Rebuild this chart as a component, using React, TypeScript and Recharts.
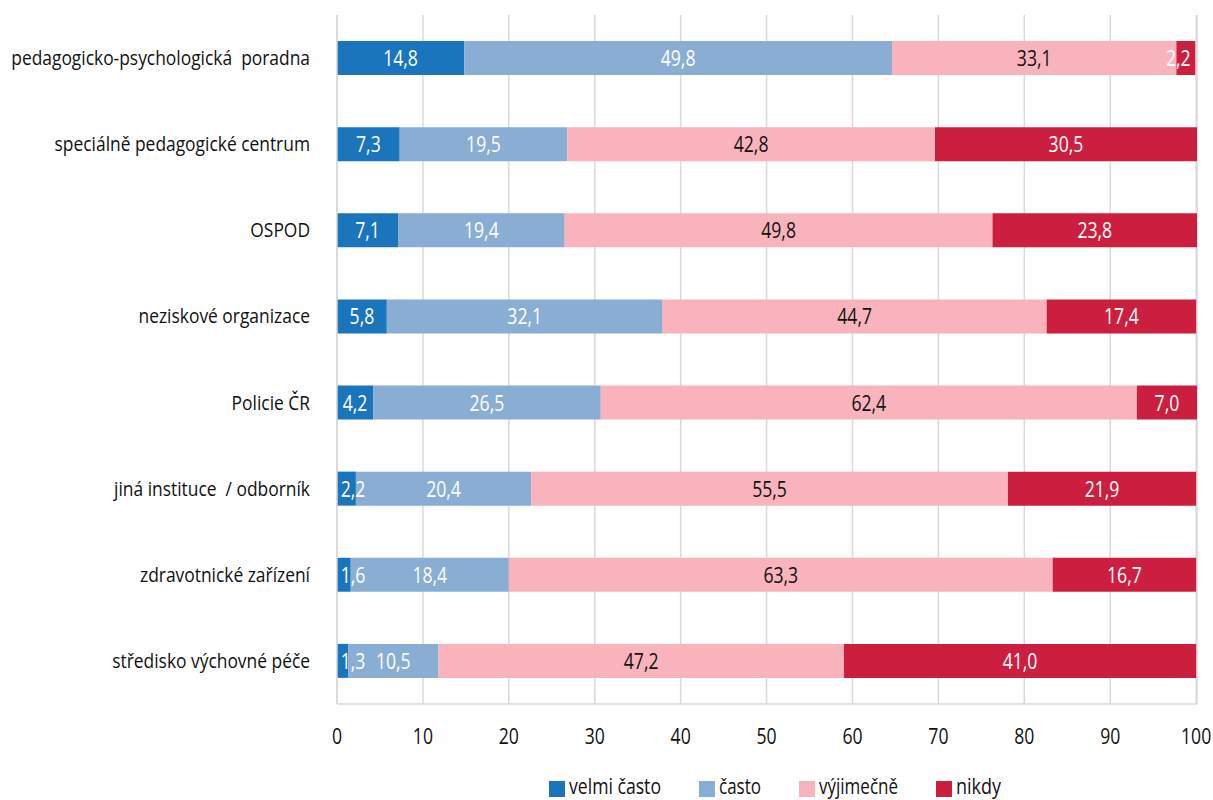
import React from "react"
import {
  BarChart,
  Bar,
  XAxis,
  YAxis,
  CartesianGrid,
  Legend,
  LabelList,
} from "recharts"

const categories = [
  "pedagogicko-psychologická  poradna",
  "speciálně pedagogické centrum",
  "OSPOD",
  "neziskové organizace",
  "Policie ČR",
  "jiná instituce  / odborník",
  "zdravotnické zařízení",
  "středisko výchovné péče",
]

const velmiCasto = [14.8, 7.3, 7.1, 5.8, 4.2, 2.2, 1.6, 1.3]
const casto = [49.8, 19.5, 19.4, 32.1, 26.5, 20.4, 18.4, 10.5]
const vyjimecne = [33.1, 42.8, 49.8, 44.7, 62.4, 55.5, 63.3, 47.2]
const nikdy = [2.2, 30.5, 23.8, 17.4, 7.0, 21.9, 16.7, 41.0]

const xTicks = [0, 10, 20, 30, 40, 50, 60, 70, 80, 90, 100]

// legendW = drawn width of each legend label (the source font is condensed)
const series = [
  { key: "velmi", name: "velmi často", color: "#1b75bc", text: "#ffffff", legendW: 92 },
  { key: "casto", name: "často", color: "#8aadd4", text: "#ffffff", legendW: 42 },
  { key: "vyjimecne", name: "výjimečně", color: "#f8b3bd", text: "#111111", legendW: 79 },
  { key: "nikdy", name: "nikdy", color: "#cc1f40", text: "#ffffff", legendW: 45 },
]

const data = categories.map((name, i) => ({
  name,
  velmi: velmiCasto[i],
  casto: casto[i],
  vyjimecne: vyjimecne[i],
  nikdy: nikdy[i],
}))

const FONT = "'Open Sans', sans-serif"
const LABEL_SCALE = 0.87
const DIGIT_SCALE = 0.8
const HALF_LABEL = 16 // keeps edge labels inside the plot, like Excel does

const fmt = (v: any) => Number(v).toFixed(1).replace(".", ",")

function YTick({ x, y, payload }: any) {
  return (
    <g transform={`translate(${x},${y})`}>
      <text
        transform={`scale(${LABEL_SCALE},1)`}
        textAnchor="end"
        dy={7}
        fontSize={20}
        fontFamily={FONT}
        fill="#111"
        style={{ whiteSpace: "pre" }}
      >
        {payload.value}
      </text>
    </g>
  )
}

function XTick({ x, y, payload }: any) {
  return (
    <g transform={`translate(${x},${y})`}>
      <text
        transform={`scale(${DIGIT_SCALE},1)`}
        textAnchor="middle"
        dy={26}
        fontSize={22}
        fontFamily={FONT}
        fill="#111"
      >
        {payload.value}
      </text>
    </g>
  )
}

function Num({ cx, cy, value, color }: any) {
  return (
    <g transform={`translate(${cx},${cy})`}>
      <text
        transform={`scale(${DIGIT_SCALE},1)`}
        textAnchor="middle"
        dy={8}
        fontSize={22}
        fontFamily={FONT}
        fill={color}
      >
        {fmt(value)}
      </text>
    </g>
  )
}

function makeBarLabel(color: string, clampRight = false) {
  return function BarLabel(props: any) {
    const vb = props.viewBox || props
    let cx = vb.x + vb.width / 2
    if (clampRight) cx = Math.min(cx, vb.x + vb.width - HALF_LABEL - 1)
    return <Num cx={cx} cy={vb.y + vb.height / 2} value={props.value} color={color} />
  }
}

// "velmi často" labels are drawn from the next segment's layer so that
// narrow values spilling over the segment edge stay visible on top
function VelmiLabel(props: any) {
  const vb = props.viewBox || props
  const i = props.index
  const pxPerUnit = vb.width / casto[i]
  const w = velmiCasto[i] * pxPerUnit
  const left = vb.x - w
  const cx = Math.max(left + w / 2, left + HALF_LABEL)
  return <Num cx={cx} cy={vb.y + vb.height / 2} value={velmiCasto[i]} color="#ffffff" />
}

function LegendContent() {
  return (
    <div
      style={{
        display: "flex",
        justifyContent: "center",
        gap: 38,
        paddingLeft: 353,
        paddingRight: 16,
      }}
    >
      {series.map((s) => (
        <div key={s.key} style={{ display: "flex", alignItems: "center", gap: 4 }}>
          <span style={{ width: 16, height: 16, background: s.color, display: "inline-block" }} />
          <svg
            width={s.legendW + 20}
            height={26}
            style={{ display: "block", overflow: "visible", marginRight: -20 }}
          >
            <text
              x={0}
              y={18}
              fontSize={21}
              fontFamily={FONT}
              fill="#111"
              textLength={s.legendW}
              lengthAdjust="spacingAndGlyphs"
            >
              {s.name}
            </text>
          </svg>
        </div>
      ))}
    </div>
  )
}

export default function App() {
  return (
    <div style={{ position: "absolute", left: 0, top: 0, background: "#fff", fontFamily: FONT }}>
      <BarChart
        width={1213}
        height={800}
        data={data}
        layout="vertical"
        margin={{ top: 15, right: 16, left: 0, bottom: 0 }}
      >
        <CartesianGrid horizontal={false} stroke="#d9d9d9" strokeWidth={1.5} />
        <XAxis
          type="number"
          domain={[0, 100]}
          ticks={xTicks}
          interval={0}
          tickLine={false}
          axisLine={{ stroke: "#d9d9d9", strokeWidth: 1.5 }}
          tick={<XTick />}
          tickMargin={8}
          height={72}
        />
        <YAxis
          type="category"
          dataKey="name"
          width={337}
          tickLine={false}
          axisLine={{ stroke: "#d9d9d9", strokeWidth: 1.5 }}
          tick={<YTick />}
          tickMargin={21}
        />
        <Legend
          verticalAlign="bottom"
          height={24}
          content={<LegendContent />}
          wrapperStyle={{ bottom: 0, left: 0, width: 1213 }}
        />
        <Bar dataKey="velmi" name="velmi často" stackId="a" fill={series[0].color} barSize={34} isAnimationActive={false} />
        <Bar dataKey="casto" name="často" stackId="a" fill={series[1].color} barSize={34} isAnimationActive={false}>
          <LabelList dataKey="casto" content={VelmiLabel} />
          <LabelList dataKey="casto" content={makeBarLabel(series[1].text)} />
        </Bar>
        <Bar dataKey="vyjimecne" name="výjimečně" stackId="a" fill={series[2].color} barSize={34} isAnimationActive={false}>
          <LabelList dataKey="vyjimecne" content={makeBarLabel(series[2].text)} />
        </Bar>
        <Bar dataKey="nikdy" name="nikdy" stackId="a" fill={series[3].color} barSize={34} isAnimationActive={false}>
          <LabelList dataKey="nikdy" content={makeBarLabel(series[3].text, true)} />
        </Bar>
      </BarChart>
    </div>
  )
}
